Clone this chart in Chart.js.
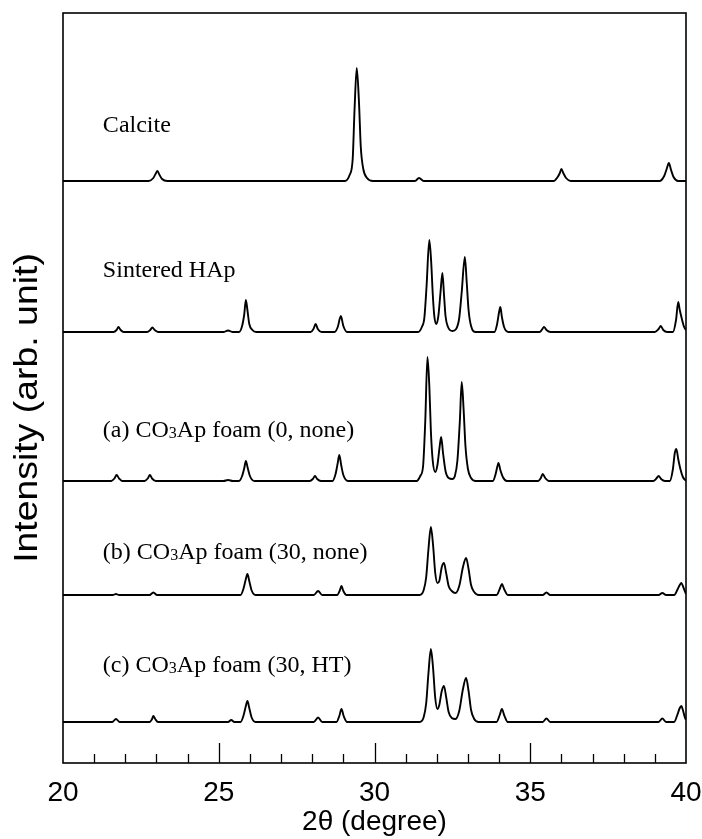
<!DOCTYPE html>
<html>
<head>
<meta charset="utf-8">
<title>XRD patterns</title>
<script src="https://cdn.jsdelivr.net/npm/chart.js@4.4.0/dist/chart.umd.min.js"></script>
<style>
  html, body { margin: 0; padding: 0; background: #fff; }
  #wrap { width: 702px; height: 839px; }
</style>
</head>
<body>
<div id="wrap"><canvas id="xrd" width="702" height="839"></canvas></div>
<script>
// 2θ range and tick labels on the bottom axis
const xMin = 20;
const xMax = 40;
const xTickLabels = [20, 25, 30, 35, 40];

// vertical offset of each pattern (arb. unit), top to bottom
const seriesNames = ['Calcite', 'Sintered HAp', '(a)', '(b)', '(c)'];
const offsets = [582, 431, 282, 168, 41];

// each pattern: [2θ, intensity above its own baseline]
const calcite = [
  [20, 0], [22.75, 0], [22.9, 3], [22.97, 7], [23.03, 10], [23.1, 6], [23.18, 2], [23.35, 0],
  [29.05, 0], [29.2, 6], [29.3, 22], [29.36, 72], [29.43, 113], [29.5, 80], [29.56, 34], [29.64, 12], [29.76, 3], [29.95, 0],
  [31.3, 0], [31.43, 3], [31.58, 0],
  [35.75, 0], [35.88, 4], [35.95, 8], [36.0, 12], [36.06, 8], [36.15, 3], [36.3, 0],
  [39.15, 0], [39.3, 5], [39.38, 12], [39.45, 18], [39.52, 11], [39.6, 4], [39.75, 0], [40, 0]
];
const sinteredHAp = [
  [20, 0], [21.62, 0], [21.72, 2], [21.78, 5], [21.85, 2], [21.95, 0],
  [22.7, 0], [22.8, 2], [22.87, 4.5], [22.94, 2], [23.05, 0],
  [25.15, 0], [25.3, 1.5], [25.45, 0],
  [25.65, 0], [25.75, 6], [25.82, 18], [25.87, 32], [25.92, 22], [25.98, 8], [26.08, 2], [26.2, 0],
  [27.95, 0], [28.04, 3], [28.11, 8], [28.18, 3], [28.3, 0],
  [28.72, 0], [28.82, 5], [28.92, 16], [29.0, 6], [29.12, 0],
  [31.4, 0], [31.52, 5], [31.6, 14], [31.67, 45], [31.76, 92], [31.82, 70], [31.87, 38], [31.92, 16], [31.98, 8],
  [32.05, 16], [32.12, 40], [32.18, 59], [32.23, 38], [32.28, 16], [32.36, 5], [32.5, 1],
  [32.62, 3], [32.72, 14], [32.8, 40], [32.9, 75], [32.96, 50], [33.02, 22], [33.1, 6], [33.25, 0],
  [33.85, 0], [33.93, 7], [34.0, 20], [34.04, 25], [34.09, 15], [34.16, 5], [34.3, 0],
  [35.3, 0], [35.38, 2.5], [35.44, 5], [35.52, 2], [35.65, 0],
  [39.0, 0], [39.12, 3], [39.19, 6], [39.27, 2], [39.4, 0],
  [39.58, 0], [39.68, 12], [39.75, 30], [39.8, 22], [39.86, 14], [39.94, 5], [40, 2]
];
const foamA = [
  [20, 0], [21.55, 0], [21.65, 2.5], [21.72, 6], [21.8, 2.5], [21.9, 0],
  [22.62, 0], [22.72, 2.5], [22.79, 6], [22.86, 2.5], [22.98, 0],
  [25.15, 0], [25.3, 1], [25.45, 0],
  [25.65, 0], [25.75, 5], [25.82, 13], [25.87, 20], [25.93, 13], [26.0, 5], [26.15, 0],
  [27.92, 0], [28.02, 2], [28.09, 5], [28.16, 2], [28.28, 0],
  [28.65, 0], [28.75, 7], [28.82, 18], [28.87, 26], [28.93, 16], [29.0, 6], [29.15, 0],
  [31.35, 0], [31.47, 5], [31.56, 15], [31.63, 60], [31.7, 124], [31.76, 95], [31.81, 50], [31.87, 20], [31.95, 9],
  [32.02, 16], [32.09, 34], [32.14, 44], [32.2, 28], [32.28, 10], [32.38, 3], [32.5, 2],
  [32.58, 5], [32.66, 20], [32.74, 60], [32.8, 99], [32.86, 72], [32.92, 35], [33.0, 12], [33.1, 3], [33.25, 0],
  [33.8, 0], [33.88, 6], [33.94, 14], [33.98, 18], [34.04, 11], [34.12, 4], [34.25, 0],
  [35.25, 0], [35.34, 3], [35.4, 7], [35.48, 3], [35.6, 0],
  [38.95, 0], [39.05, 2.5], [39.12, 5], [39.2, 2], [39.32, 0],
  [39.48, 0], [39.58, 12], [39.64, 28], [39.69, 32], [39.75, 22], [39.82, 12], [39.9, 4], [40, 0]
];
const foamB = [
  [20, 0], [21.6, 0], [21.7, 1], [21.8, 0],
  [22.78, 0], [22.9, 2.5], [23.02, 0],
  [25.7, 0], [25.8, 7], [25.87, 16], [25.92, 21], [25.98, 14], [26.05, 5], [26.18, 0],
  [28.05, 0], [28.19, 4], [28.32, 0],
  [28.8, 0], [28.88, 4], [28.94, 9], [29.0, 4], [29.1, 0],
  [31.45, 0], [31.58, 5], [31.66, 18], [31.73, 45], [31.81, 68], [31.88, 50], [31.95, 22], [32.02, 12],
  [32.08, 14], [32.16, 28], [32.23, 32], [32.3, 22], [32.38, 9], [32.48, 4],
  [32.6, 2], [32.72, 9], [32.84, 28], [32.94, 37], [33.02, 26], [33.1, 10], [33.2, 3], [33.35, 0],
  [33.92, 0], [34.02, 6], [34.09, 11], [34.16, 6], [34.28, 0],
  [35.4, 0], [35.52, 2.5], [35.64, 0],
  [39.12, 0], [39.24, 2], [39.36, 0],
  [39.62, 0], [39.72, 5], [39.8, 10], [39.85, 12], [39.9, 9], [39.96, 4], [40, 1]
];
const foamC = [
  [20, 0], [21.58, 0], [21.7, 3], [21.82, 0],
  [22.78, 0], [22.86, 3], [22.9, 6], [22.96, 3], [23.05, 0],
  [25.3, 0], [25.4, 2], [25.5, 0],
  [25.7, 0], [25.8, 7], [25.87, 16], [25.92, 21], [25.98, 14], [26.05, 5], [26.18, 0],
  [28.05, 0], [28.19, 4.5], [28.32, 0],
  [28.78, 0], [28.87, 6], [28.94, 13], [29.01, 6], [29.12, 0],
  [31.45, 0], [31.58, 5], [31.66, 19], [31.73, 48], [31.81, 73], [31.88, 54], [31.95, 24], [32.02, 13],
  [32.08, 17], [32.16, 31], [32.23, 36], [32.3, 25], [32.38, 10], [32.48, 4],
  [32.6, 3], [32.72, 11], [32.84, 33], [32.94, 44], [33.02, 31], [33.1, 12], [33.2, 3], [33.35, 0],
  [33.92, 0], [34.02, 7], [34.09, 13], [34.16, 7], [34.28, 0],
  [35.4, 0], [35.52, 3.5], [35.64, 0],
  [39.12, 0], [39.24, 3.5], [39.36, 0],
  [39.62, 0], [39.72, 7], [39.8, 14], [39.85, 16], [39.9, 12], [39.96, 5], [40, 2]
];
const patterns = [calcite, sinteredHAp, foamA, foamB, foamC];

// text beside each pattern: [before subscript, subscript, after subscript]
const patternLabels = [
  ['Calcite', '', ''],
  ['Sintered HAp', '', ''],
  ['(a) CO', '3', 'Ap foam (0, none)'],
  ['(b) CO', '3', 'Ap foam (30, none)'],
  ['(c) CO', '3', 'Ap foam (30, HT)']
];

// where the labels sit, in axis units (2θ, intensity)
const labelX = 21.28;
const labelY = [631, 486, 326, 204, 91];

const yTitle = 'Intensity (arb. unit)';
const xTitle = '2θ (degree)';

const sans = '"Liberation Sans", Arial, sans-serif';
const serif = '"Liberation Serif", "Times New Roman", serif';

// frame round the plot, inward ticks, y title and the pattern labels
const framePlugin = {
  id: 'frame',
  afterDraw(chart) {
    const ctx = chart.ctx;
    const a = chart.chartArea;
    const xs = chart.scales.x;
    const ys = chart.scales.y;
    ctx.save();
    ctx.strokeStyle = '#000';
    ctx.lineWidth = 1.6;
    ctx.strokeRect(a.left, a.top, a.right - a.left, a.bottom - a.top);

    // inward ticks along the bottom, longer at the labelled values
    ctx.lineWidth = 1.3;
    xs.ticks.forEach(t => {
      if (t.value <= xMin || t.value >= xMax) return;
      const px = Math.round(xs.getPixelForValue(t.value)) + 0.5;
      const len = xTickLabels.includes(t.value) ? 20 : 9;
      ctx.beginPath();
      ctx.moveTo(px, a.bottom);
      ctx.lineTo(px, a.bottom - len);
      ctx.stroke();
    });

    // y title: the original lettering is a bit wide, so stretch it slightly
    ctx.fillStyle = '#000';
    ctx.save();
    ctx.translate(28, 408);
    ctx.rotate(-Math.PI / 2);
    ctx.scale(1.1, 1);
    ctx.font = '34px ' + sans;
    ctx.textAlign = 'center';
    ctx.textBaseline = 'middle';
    ctx.fillText(yTitle, 0, 0);
    ctx.restore();

    // labels, with the small "3" of CO3
    ctx.textBaseline = 'alphabetic';
    patternLabels.forEach((parts, i) => {
      let x = xs.getPixelForValue(labelX);
      const y = ys.getPixelForValue(labelY[i]);
      ctx.font = '24px ' + serif;
      ctx.fillText(parts[0], x, y);
      x += ctx.measureText(parts[0]).width;
      if (parts[1]) {
        ctx.font = '16px ' + serif;
        ctx.fillText(parts[1], x, y + 1);
        x += ctx.measureText(parts[1]).width;
        ctx.font = '24px ' + serif;
        ctx.fillText(parts[2], x, y);
      }
    });
    ctx.restore();
  }
};

document.addEventListener('DOMContentLoaded', () => {
  const datasets = patterns.map((pts, i) => ({
    label: seriesNames[i],
    data: pts.map(p => ({ x: p[0], y: p[1] + offsets[i] })),
    borderColor: '#000',
    borderWidth: 1.9,
    pointRadius: 0,
    fill: false,
    cubicInterpolationMode: 'monotone'
  }));

  new Chart(document.getElementById('xrd'), {
    type: 'line',
    data: { datasets },
    plugins: [framePlugin],
    options: {
      responsive: false,
      animation: false,
      layout: { padding: { top: 13, right: 16, left: 0, bottom: 0 } },
      plugins: { legend: { display: false }, tooltip: { enabled: false } },
      scales: {
        x: {
          type: 'linear',
          min: xMin,
          max: xMax,
          grid: { display: false, drawTicks: false },
          border: { display: false },
          ticks: {
            stepSize: 1,
            autoSkip: false,
            maxRotation: 0,
            padding: 13,
            color: '#000',
            font: { family: sans, size: 28 },
            callback: v => (xTickLabels.includes(v) ? String(v) : '')
          },
          title: {
            display: true,
            text: xTitle,
            color: '#000',
            font: { family: sans, size: 28 },
            padding: 0
          },
          afterFit: s => { s.height = 76; s.paddingLeft = 0; s.paddingRight = 0; }
        },
        y: {
          type: 'linear',
          min: 0,
          max: 750,
          grid: { display: false },
          border: { display: false },
          ticks: { display: false },
          title: { display: false },
          afterFit: s => { s.width = 63; }
        }
      }
    }
  });
});
</script>
</body>
</html>
